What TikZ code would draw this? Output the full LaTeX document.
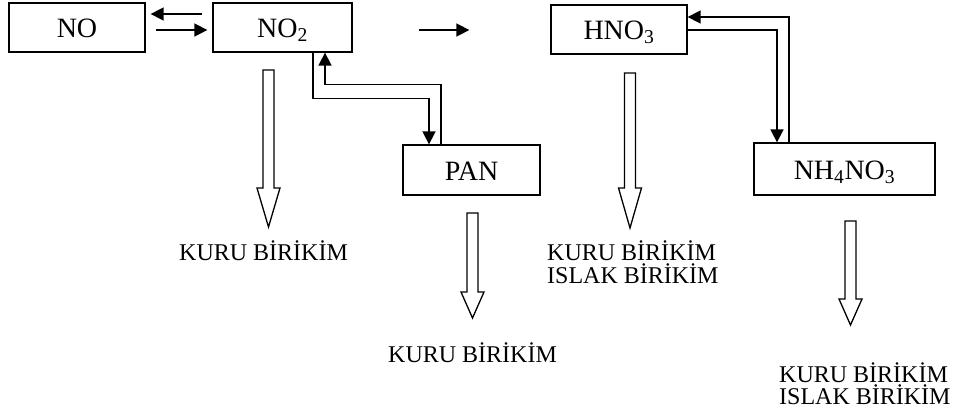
\documentclass[tikz,border=0pt]{standalone}
\usepackage{fontspec}
\setmainfont{Liberation Serif}
\usetikzlibrary{arrows.meta}

% hollow deposition arrow: centre x, top, neck, tip
\newcommand\sinkarrow[4]{%
  \draw[sinkline] (#1-5.5,#2) -- (#1-5.5,#3) -- (#1-11.5,#3) -- (#1,#4)
    -- (#1+11.5,#3) -- (#1+5.5,#3) -- (#1+5.5,#2) -- cycle;}

\begin{document}
\begin{tikzpicture}[x=1pt,y=-1pt,
  species/.style={draw, line width=1.3pt, inner sep=0pt,
    font=\fontsize{28}{30}\selectfont, text height=20pt, text depth=0pt},
  flow/.style={line width=1.6pt, -{Triangle[length=13pt,width=13pt]}},
  sinkline/.style={line width=1.3pt, line join=miter},
  fate/.style={font=\fontsize{24}{27}\selectfont, inner sep=0pt, anchor=base west}]

\useasboundingbox (0,0) rectangle (959,410);

% species boxes
\node[species, minimum width=136pt, minimum height=49pt] (NO)   at (77,27.5)  {NO};
\node[species, minimum width=139pt, minimum height=49pt] (NO2)  at (282.5,27.5) {NO\textsubscript{2}};
\node[species, minimum width=136pt, minimum height=49pt] (HNO3) at (619,29.5) {HNO\textsubscript{3}};
\node[species, minimum width=137pt, minimum height=50pt] (PAN)  at (471.5,170) {PAN};
\node[species, minimum width=181pt, minimum height=52pt] (NH4)  at (844.5,169) {NH\textsubscript{4}NO\textsubscript{3}};

% NO <-> NO2 equilibrium
\draw[flow] ([shift={(-10,-13.5)}]NO2.west) -- ([shift={(5,-13.5)}]NO.east);
\draw[flow] ([shift={(10,2.5)}]NO.east) -- ([shift={(-5,2.5)}]NO2.west);

% NO2 -> HNO3
\draw[flow] ([shift={(66,2.5)}]NO2.east) -- ([shift={(-81,0.5)}]HNO3.west);

% NO2 <-> PAN
\draw[flow] ([shift={(30.5,0)}]NO2.south) -- ++(0,46) -| ([shift={(-42.5,0)}]PAN.north);
\draw[flow] ([shift={(-30.5,0)}]PAN.north) -- ++(0,-60) -| ([shift={(42.5,0)}]NO2.south);

% HNO3 <-> NH4NO3
\draw[flow] ([shift={(0,0.5)}]HNO3.east) -| ([shift={(-67.5,0)}]NH4.north);
\draw[flow] ([shift={(-55.5,0)}]NH4.north) |- ([shift={(0,-12.5)}]HNO3.east);

% deposition arrows
\sinkarrow{268.5}{70}{188}{227}
\sinkarrow{630}{73}{188}{228}
\sinkarrow{472.5}{213}{292}{318}
\sinkarrow{850.5}{221}{299}{325}

% deposition labels
\node[fate] (d1)  at (179,260) {KURU BİRİKİM};
\node[fate] (d2a) at (547,260) {KURU BİRİKİM};
\node[fate] (d2b) at (547,283) {ISLAK BİRİKİM};
\node[fate] (d3)  at (388,362) {KURU BİRİKİM};
\node[fate] (d4a) at (779,382) {KURU BİRİKİM};
\node[fate] (d4b) at (779,404) {ISLAK BİRİKİM};

\end{tikzpicture}
\end{document}
